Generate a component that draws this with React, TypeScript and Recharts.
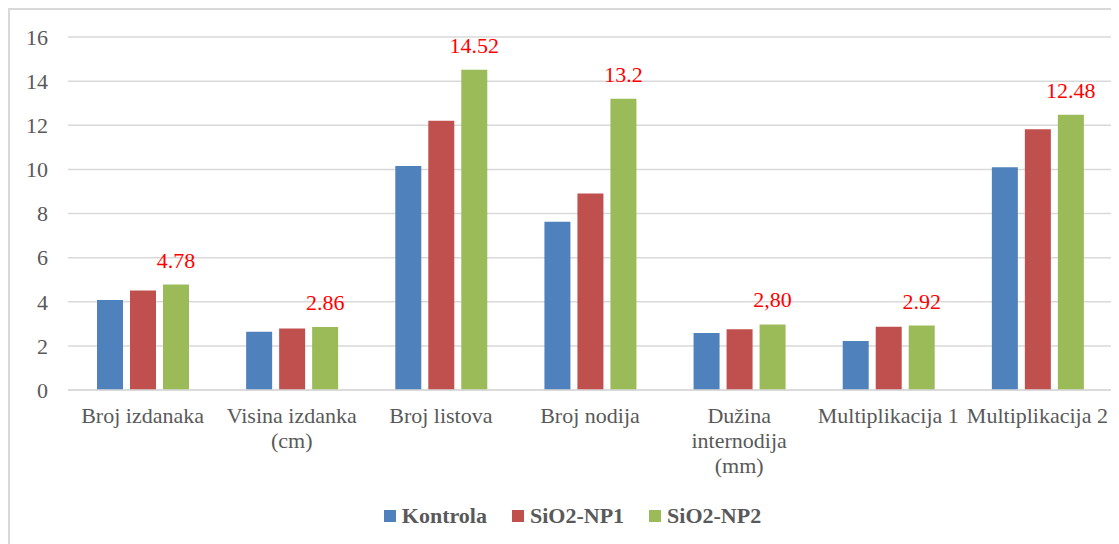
import React from 'react';
import { BarChart, Bar, XAxis, YAxis, CartesianGrid, Legend, LabelList } from 'recharts';

const categories = [
  'Broj izdanaka',
  'Visina izdanka (cm)',
  'Broj listova',
  'Broj nodija',
  'Dužina internodija (mm)',
  'Multiplikacija 1',
  'Multiplikacija 2',
];
const kontrola = [4.08, 2.64, 10.15, 7.63, 2.58, 2.22, 10.1];
const np1 = [4.51, 2.79, 12.2, 8.91, 2.75, 2.87, 11.82];
const np2 = [4.78, 2.86, 14.52, 13.2, 2.97, 2.92, 12.48];
const np2Labels = ['4.78', '2.86', '14.52', '13.2', '2,80', '2.92', '12.48'];
const yTicks = [0, 2, 4, 6, 8, 10, 12, 14, 16];

const series = [
  { key: 'kontrola', name: 'Kontrola', color: '#4F81BD' },
  { key: 'np1', name: 'SiO2-NP1', color: '#C0504D' },
  { key: 'np2', name: 'SiO2-NP2', color: '#9BBB59' },
];

const data = categories.map((name, i) => ({
  name,
  kontrola: kontrola[i],
  np1: np1[i],
  np2: np2[i],
  np2Label: np2Labels[i],
}));

const FONT = '"Liberation Serif", "Times New Roman", serif';
const GREY = '#595959';
const FS = 22;

let ctx: CanvasRenderingContext2D | null = null;
const measure = (s: string) => {
  if (!ctx) ctx = document.createElement('canvas').getContext('2d');
  if (!ctx) return s.length * FS * 0.45;
  ctx.font = `${FS}px ${FONT}`;
  return ctx.measureText(s).width;
};

// greedy word wrap, like the category axis in the original
const wrap = (s: string, maxW: number) => {
  const lines: string[] = [];
  let cur = '';
  s.split(' ').forEach((w) => {
    const next = cur ? `${cur} ${w}` : w;
    if (cur && measure(next) > maxW) {
      lines.push(cur);
      cur = w;
    } else {
      cur = next;
    }
  });
  if (cur) lines.push(cur);
  return lines;
};

const CategoryTick = (props: any) => {
  const { x, y, payload } = props;
  const lines = wrap(String(payload.value), 146);
  return (
    <text x={x} y={y} textAnchor="middle" fontSize={FS} fontFamily={FONT} fill={GREY}>
      {lines.map((l, i) => (
        <tspan key={i} x={x} y={y + 33 + i * 25}>
          {l}
        </tspan>
      ))}
    </text>
  );
};

const LegendContent = () => (
  <div style={{ display: 'flex', justifyContent: 'center', alignItems: 'center', gap: 25 }}>
    {series.map((s) => (
      <div key={s.key} style={{ display: 'flex', alignItems: 'center' }}>
        <span style={{ display: 'inline-block', width: 12, height: 12, background: s.color, marginRight: 6 }} />
        <span style={{ fontFamily: FONT, fontSize: FS, fontWeight: 'bold', color: GREY, lineHeight: '24px' }}>
          {s.name}
        </span>
      </div>
    ))}
  </div>
);

export default function App() {
  return (
    <div
      style={{
        width: 1111,
        height: 536,
        boxSizing: 'border-box',
        borderTop: '2px solid #d9d9d9',
        borderLeft: '2px solid #d9d9d9',
        overflow: 'hidden',
      }}
    >
      <BarChart
        width={1109}
        height={534}
        data={data}
        margin={{ top: 27, right: 7, left: 0, bottom: 30 }}
        barSize={26}
        barGap={7}
        style={{ fontFamily: FONT }}
      >
        <CartesianGrid vertical={false} stroke="#d9d9d9" strokeWidth={1.5} />
        <XAxis
          dataKey="name"
          interval={0}
          tickLine={false}
          tickSize={0}
          tickMargin={0}
          axisLine={{ stroke: '#d9d9d9', strokeWidth: 1.5 }}
          tick={<CategoryTick />}
          height={100}
        />
        <YAxis
          domain={[0, 16]}
          ticks={yTicks}
          interval={0}
          width={58}
          axisLine={false}
          tickLine={false}
          tickSize={0}
          tickMargin={20}
          tick={{ fontSize: FS, fill: GREY, fontFamily: FONT }}
        />
        <Legend content={<LegendContent />} wrapperStyle={{ top: 494, left: 16, width: 1093 }} />
        {series.map((s) => (
          <Bar key={s.key} dataKey={s.key} name={s.name} fill={s.color} isAnimationActive={false}>
            {s.key === 'np2' && (
              <LabelList
                dataKey="np2Label"
                position="top"
                offset={17}
                fill="#FF0000"
                fontSize={FS}
                fontFamily={FONT}
              />
            )}
          </Bar>
        ))}
      </BarChart>
    </div>
  );
}
